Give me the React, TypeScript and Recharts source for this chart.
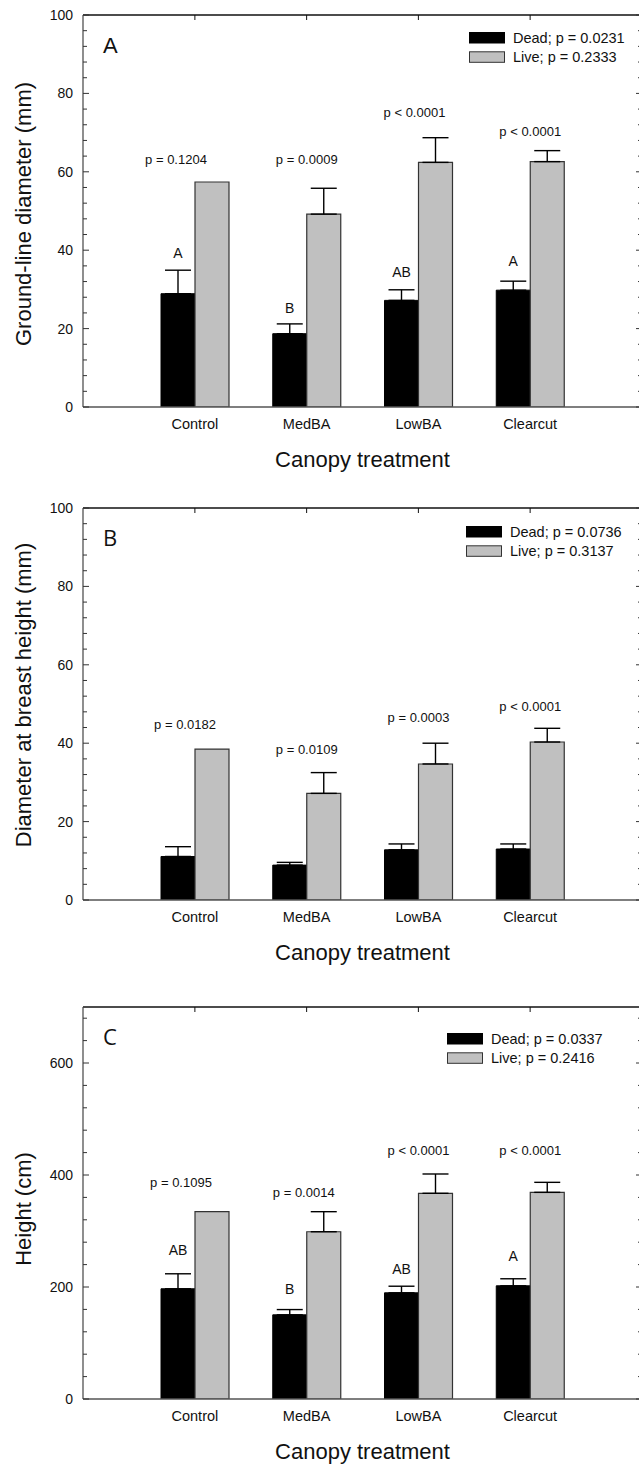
import React from 'react';
import { BarChart, Bar, XAxis, YAxis, ErrorBar, LabelList, Legend, Label } from 'recharts';

const FONT = '"Liberation Sans", Arial, Helvetica, sans-serif';

const categories = ['Control', 'MedBA', 'LowBA', 'Clearcut'];

// ---- Panel A: ground-line diameter (mm)
const deadA = [28.9, 18.7, 27.2, 29.8];
const deadErrA = [6.0, 2.5, 2.7, 2.3];
const liveA = [57.4, 49.2, 62.4, 62.6];
const liveErrA = [0, 6.6, 6.3, 2.8];
const lettersA = ['A', 'B', 'AB', 'A'];
const letterAtA = [37.9, 23.9, 33.1, 36.0];
const pTextA = ['p = 0.1204', 'p = 0.0009', 'p < 0.0001', 'p < 0.0001'];
const pAtA = [61.9, 62.1, 74.0, 69.2];
const legendA = ['Dead; p = 0.0231', 'Live; p = 0.2333'];
const ticksA = [0, 4, 8, 12, 16, 20, 24, 28, 32, 36, 40, 44, 48, 52, 56, 60, 64, 68, 72, 76, 80, 84, 88, 92, 96, 100];
const majorA = [0, 20, 40, 60, 80, 100];

// ---- Panel B: diameter at breast height (mm)
const deadB = [11.1, 8.9, 12.8, 13.0];
const deadErrB = [2.5, 0.7, 1.5, 1.3];
const liveB = [38.5, 27.2, 34.7, 40.3];
const liveErrB = [0, 5.3, 5.3, 3.5];
const lettersB = ['', '', '', ''];
const letterAtB = [0, 0, 0, 0];
const pTextB = ['p = 0.0182', 'p = 0.0109', 'p = 0.0003', 'p < 0.0001'];
const pAtB = [43.6, 37.3, 45.4, 48.3];
const legendB = ['Dead; p = 0.0736', 'Live; p = 0.3137'];
const ticksB = ticksA;
const majorB = majorA;

// ---- Panel C: height (cm)
const deadC = [196.8, 150.3, 189.6, 202.1];
const deadErrC = [26.8, 9.4, 11.8, 12.6];
const liveC = [334.5, 298.7, 367.3, 369.0];
const liveErrC = [0, 35.8, 34.5, 17.9];
const lettersC = ['AB', 'B', 'AB', 'A'];
const letterAtC = [256.4, 186.8, 222.4, 246.2];
const pTextC = ['p = 0.1095', 'p = 0.0014', 'p < 0.0001', 'p < 0.0001'];
const pAtC = [379.2, 361.4, 435.8, 435.8];
const legendC = ['Dead; p = 0.0337', 'Live; p = 0.2416'];
const ticksC = [0, 40, 80, 120, 160, 200, 240, 280, 320, 360, 400, 440, 480, 520, 560, 600, 640, 680];
const majorC = [0, 200, 400, 600];

const PLOT_H = 392;
const CHART_W = 644;
const LEFT_W = 83;

function buildRows(dead: number[], deadErr: number[], live: number[], liveErr: number[]) {
  return categories.map((cat, i) => ({
    cat,
    dead: dead[i],
    live: live[i],
    deadErr: deadErr[i] ? [0, deadErr[i]] : null,
    liveErr: liveErr[i] ? [0, liveErr[i]] : null,
  }));
}

function barGeom(props: any) {
  const vb = props.viewBox ?? props;
  const x = Number(vb.x);
  const y = Number(vb.y);
  const w = Number(vb.width);
  const hh = Number(vb.height);
  const top = Math.min(y, y + hh);
  const h = Math.abs(hh);
  return { x, w, zero: top + h, h };
}

const makeAnnot = (
  texts: string[],
  at: number[],
  values: number[],
  centered: boolean,
  size: number,
  shift: number[]
) =>
  (props: any) => {
    const idx = props.index;
    if (idx == null || !texts[idx]) return null;
    const g = barGeom(props);
    const ppu = g.h / values[idx];
    const cx = (centered ? g.x + g.w / 2 : g.x) + (shift[idx] || 0);
    return (
      <text x={cx} y={g.zero - at[idx] * ppu} textAnchor="middle" fontSize={size} fontFamily={FONT} fill="#111">
        {texts[idx]}
      </text>
    );
  };

const makeLeftTick = (major: number[]) => (props: any) => {
  const { x, y, payload } = props;
  const isMajor = major.includes(payload.value);
  return (
    <g>
      <line x1={x} x2={x + (isMajor ? 6 : 4)} y1={y} y2={y} stroke="#333" strokeWidth={1} />
      {isMajor && (
        <text x={x - 10} y={y + 5} textAnchor="end" fontSize={14} fontFamily={FONT} fill="#111">
          {payload.value}
        </text>
      )}
    </g>
  );
};

const makeRightTick = (major: number[]) => (props: any) => {
  const { x, y, payload } = props;
  const isMajor = major.includes(payload.value);
  return <line x1={x - (isMajor ? 6 : 4)} x2={x} y1={y} y2={y} stroke="#333" strokeWidth={1} />;
};

const TopTick = (props: any) => {
  const { x, y } = props;
  return <line x1={x} x2={x} y1={y} y2={y + 5} stroke="#111" strokeWidth={1} />;
};

const BottomTick = (props: any) => {
  const { x, y, payload } = props;
  return (
    <text x={x} y={y + 21.5} textAnchor="middle" fontSize={14.5} fontFamily={FONT} fill="#111">
      {payload.value}
    </text>
  );
};

const makeLegend = (names: string[]) => () => (
  <svg width={190} height={34} style={{ display: 'block', overflow: 'visible' }}>
    <rect x={0.5} y={0.5} width={35} height={10.5} fill="#000" stroke="#000" />
    <text x={44} y={11} fontSize={14.5} fontFamily={FONT} fill="#111">{names[0]}</text>
    <rect x={0.5} y={19.8} width={35} height={10.5} fill="#c0c0c0" stroke="#333" />
    <text x={44} y={30.3} fontSize={14.5} fontFamily={FONT} fill="#111">{names[1]}</text>
  </svg>
);

type PanelProps = {
  top: number;
  letter: string;
  letterFont: string;
  dead: number[];
  deadErr: number[];
  live: number[];
  liveErr: number[];
  letters: string[];
  letterAt: number[];
  pText: string[];
  pAt: number[];
  pShift: number[];
  legend: string[];
  legendPos: { left: number; top: number };
  ticks: number[];
  major: number[];
  domain: [number, number];
  yTitle: string;
  yTitleDy: number;
};

function Panel(p: PanelProps) {
  const rows = buildRows(p.dead, p.deadErr, p.live, p.liveErr);
  const chartH = 15 + PLOT_H + 70;
  return (
    <div style={{ position: 'absolute', left: 0, top: p.top, width: CHART_W, height: chartH }}>
      <BarChart
        width={CHART_W}
        height={chartH}
        data={rows}
        margin={{ top: 14, right: 0, bottom: 0, left: 0 }}
        barGap={0}
        barSize={34}
      >
        <XAxis
          xAxisId="bottom"
          dataKey="cat"
          orientation="bottom"
          height={70}
          padding={{ left: 56, right: 56 }}
          axisLine={{ stroke: '#555', strokeWidth: 1.5 }}
          tickLine={false}
          tickSize={0}
          tickMargin={0}
          interval={0}
          tick={BottomTick}
        >
          <Label
            content={(lp: any) => {
              const vb = lp.viewBox;
              return (
                <text x={vb.x + vb.width / 2} y={vb.y + 59.5} textAnchor="middle" fontSize={22} fontFamily={FONT} fill="#111">
                  Canopy treatment
                </text>
              );
            }}
          />
        </XAxis>
        <XAxis
          xAxisId="top"
          dataKey="cat"
          orientation="top"
          height={1}
          padding={{ left: 56, right: 56 }}
          axisLine={{ stroke: '#111', strokeWidth: 1.3 }}
          tickLine={false}
          tickSize={0}
          tickMargin={0}
          interval={0}
          tick={TopTick}
        />
        <YAxis
          yAxisId="left"
          type="number"
          domain={p.domain}
          ticks={p.ticks}
          interval={0}
          width={LEFT_W}
          axisLine={{ stroke: '#444', strokeWidth: 1.2 }}
          tickLine={false}
          tickSize={0}
          tickMargin={0}
          tick={makeLeftTick(p.major)}
          allowDataOverflow
        >
          <Label
            content={(lp: any) => {
              const vb = lp.viewBox;
              const cx = 31;
              const cy = vb.y + vb.height / 2 + p.yTitleDy;
              return (
                <text
                  x={cx}
                  y={cy}
                  transform={`rotate(-90, ${cx}, ${cy})`}
                  textAnchor="middle"
                  fontSize={22}
                  fontFamily={FONT}
                  fill="#111"
                >
                  {p.yTitle}
                </text>
              );
            }}
          />
        </YAxis>
        <YAxis
          yAxisId="right"
          orientation="right"
          type="number"
          domain={p.domain}
          ticks={p.ticks}
          interval={0}
          width={2}
          axisLine={{ stroke: '#111', strokeWidth: 1.2 }}
          tickLine={false}
          tickSize={0}
          tickMargin={0}
          tick={makeRightTick(p.major)}
          allowDataOverflow
        />
        <Legend
          layout="horizontal"
          align="center"
          verticalAlign="middle"
          content={makeLegend(p.legend)}
          wrapperStyle={{ position: 'absolute', left: p.legendPos.left, top: p.legendPos.top, width: 190, height: 34, margin: 0 }}
        />
        <Bar
          xAxisId="bottom"
          yAxisId="left"
          dataKey="dead"
          name={p.legend[0]}
          fill="#000"
          stroke="#000"
          strokeWidth={1}
          isAnimationActive={false}
        >
          <ErrorBar dataKey="deadErr" width={13} stroke="#000" strokeWidth={1.4} direction="y" />
          <LabelList dataKey="dead" content={makeAnnot(p.letters, p.letterAt, p.dead, true, 14, [0, 0, 0, 0])} />
        </Bar>
        <Bar
          xAxisId="bottom"
          yAxisId="left"
          dataKey="live"
          name={p.legend[1]}
          fill="#c0c0c0"
          stroke="#333"
          strokeWidth={1.2}
          isAnimationActive={false}
        >
          <ErrorBar dataKey="liveErr" width={13} stroke="#000" strokeWidth={1.4} direction="y" />
          <LabelList dataKey="live" content={makeAnnot(p.pText, p.pAt, p.live, false, 13, p.pShift)} />
        </Bar>
      </BarChart>
      <svg
        width={160}
        height={70}
        style={{ position: 'absolute', left: 0, top: 0, pointerEvents: 'none' }}
      >
        <text x={103} y={52.5} fontSize={22} fontFamily={p.letterFont} fill="#111">
          {p.letter}
        </text>
      </svg>
    </div>
  );
}

export default function App() {
  return (
    <div
      style={{
        position: 'absolute',
        left: 0,
        top: 0,
        width: 639,
        height: 1466,
        overflow: 'hidden',
        background: '#fff',
        fontFamily: FONT,
      }}
    >
      <Panel
        top={0}
        letter="A"
        letterFont={FONT}
        dead={deadA}
        deadErr={deadErrA}
        live={liveA}
        liveErr={liveErrA}
        letters={lettersA}
        letterAt={letterAtA}
        pText={pTextA}
        pAt={pAtA}
        pShift={[-19, 0, -4, 0]}
        legend={legendA}
        legendPos={{ left: 469, top: 31.5 }}
        ticks={ticksA}
        major={majorA}
        domain={[0, 100]}
        yTitle="Ground-line diameter (mm)"
        yTitleDy={3}
      />
      <Panel
        top={493}
        letter="B"
        letterFont={'"Open Sans", ' + FONT}
        dead={deadB}
        deadErr={deadErrB}
        live={liveB}
        liveErr={liveErrB}
        letters={lettersB}
        letterAt={letterAtB}
        pText={pTextB}
        pAt={pAtB}
        pShift={[-10, 0, 0, 0]}
        legend={legendB}
        legendPos={{ left: 466, top: 32.5 }}
        ticks={ticksB}
        major={majorB}
        domain={[0, 100]}
        yTitle="Diameter at breast height (mm)"
        yTitleDy={-9}
      />
      <Panel
        top={992}
        letter="C"
        letterFont={'"Open Sans", ' + FONT}
        dead={deadC}
        deadErr={deadErrC}
        live={liveC}
        liveErr={liveErrC}
        letters={lettersC}
        letterAt={letterAtC}
        pText={pTextC}
        pAt={pAtC}
        pShift={[-14, -3, 0, 0]}
        legend={legendC}
        legendPos={{ left: 447, top: 41 }}
        ticks={ticksC}
        major={majorC}
        domain={[0, 700]}
        yTitle="Height (cm)"
        yTitleDy={6}
      />
    </div>
  );
}
